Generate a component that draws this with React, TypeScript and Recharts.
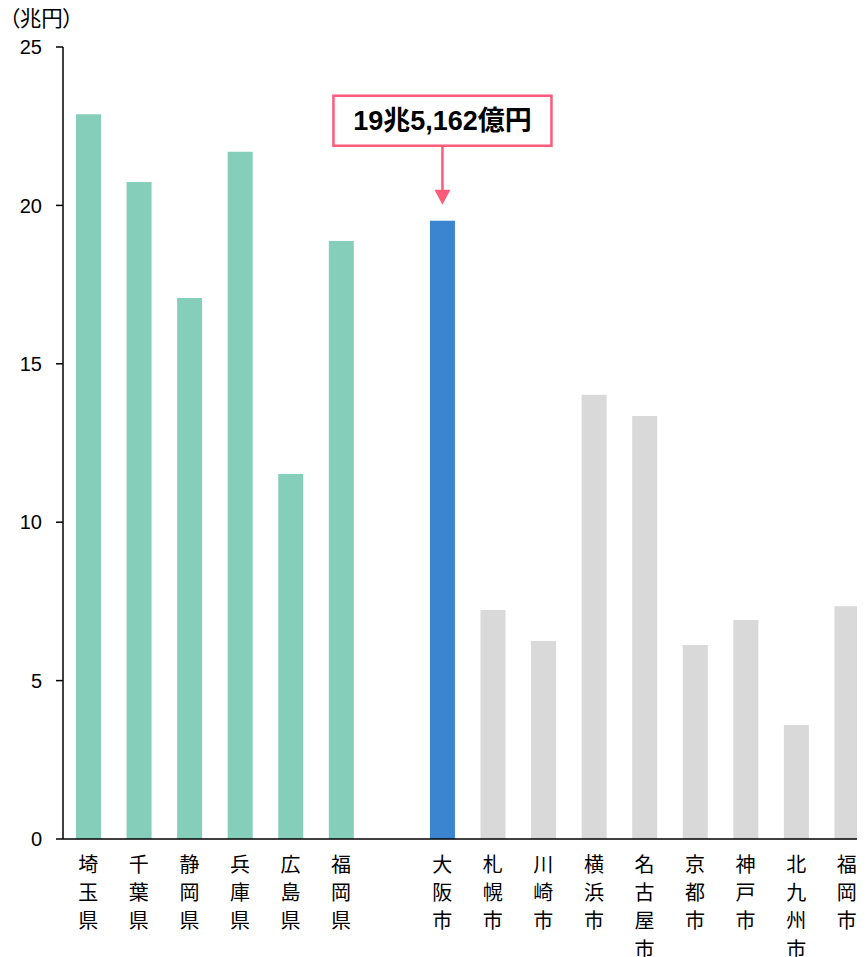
import React from 'react';
import { BarChart, Bar, XAxis, YAxis, Cell, LabelList } from 'recharts';

const categories = ['埼玉県', '千葉県', '静岡県', '兵庫県', '広島県', '福岡県', '', '大阪市', '札幌市', '川崎市', '横浜市', '名古屋市', '京都市', '神戸市', '北九州市', '福岡市'];
const values: (number | null)[] = [22.88, 20.74, 17.08, 21.69, 11.52, 18.88, null, 19.5162, 7.23, 6.25, 14.02, 13.35, 6.12, 6.91, 3.6, 7.35];
const groups = ['pref', 'pref', 'pref', 'pref', 'pref', 'pref', 'gap', 'osaka', 'city', 'city', 'city', 'city', 'city', 'city', 'city', 'city'];
const yTicks = [0, 5, 10, 15, 20, 25];
const annotationText = '19兆5,162億円';
const unitLabel = '（兆円）';

const colorOf: Record<string, string> = {
  pref: '#84CEBA',
  osaka: '#3B84CF',
  city: '#D9D9D9',
  gap: '#FFFFFF',
};

const data = categories.map((name, i) => ({ name, value: values[i], group: groups[i] }));
const osakaIndex = groups.indexOf('osaka');

const PINK = '#FF5B7B';
const CJK = '"Noto Sans CJK JP", "Liberation Sans", sans-serif';
const NUM = '"Liberation Sans", Arial, "Noto Sans CJK JP", sans-serif';

const XTick = (props: any) => {
  const { x, y, payload } = props;
  const chars = Array.from(String(payload.value || ''));
  return (
    <g>
      {chars.map((c, i) => (
        <text key={i} x={x} y={y + 25 + i * 28.2} textAnchor="middle" fontSize={20} fontFamily={CJK} fill="#000">
          {c}
        </text>
      ))}
    </g>
  );
};

const OsakaLabel = (props: any) => {
  const { x, y, width, value } = props;
  if (value !== values[osakaIndex]) return null;
  const cx = Number(x) + Number(width) / 2;
  const top = Number(y);
  const boxW = 218;
  const boxH = 50;
  const boxTop = top - 125;
  const boxBottom = boxTop + boxH;
  const tip = top - 16;
  return (
    <g>
      <rect x={cx - boxW / 2} y={boxTop} width={boxW} height={boxH} fill="#fff" stroke={PINK} strokeWidth={2.5} />
      <text x={cx} y={boxTop + boxH / 2 + 9} textAnchor="middle" fontSize={27} fontWeight="bold" fontFamily={NUM} fill="#000">
        {annotationText}
      </text>
      <line x1={cx} y1={boxBottom} x2={cx} y2={tip - 12} stroke={PINK} strokeWidth={2.5} />
      <polygon points={`${cx - 8},${tip - 15} ${cx + 8},${tip - 15} ${cx},${tip}`} fill={PINK} />
    </g>
  );
};

export default function App() {
  return (
    <div style={{ position: 'relative', width: 857, height: 949, overflow: 'hidden' }}>
      <style>{'html,body{overflow:hidden}'}</style>
      <BarChart width={864} height={949} data={data} margin={{ top: 39, right: 0, bottom: 8, left: 0 }}>
        <XAxis
          dataKey="name"
          interval={0}
          tickLine={false}
          axisLine={{ stroke: '#000', strokeWidth: 1.5 }}
          tick={<XTick />}
          height={110}
        />
        <YAxis
          domain={[0, 25]}
          ticks={yTicks}
          width={55}
          tickSize={7}
          tickMargin={14}
          axisLine={{ stroke: '#000', strokeWidth: 1.5 }}
          tickLine={{ stroke: '#000', strokeWidth: 1.5 }}
          tick={{ fontSize: 20, fill: '#000', fontFamily: NUM }}
          label={{
            value: unitLabel,
            content: () => (
              <text x={1} y={18} fontSize={21.5} fontFamily={CJK} fill="#000" style={{ fontFeatureSettings: '"palt"' }}>
                {unitLabel}
              </text>
            ),
          }}
        />
        <Bar dataKey="value" barSize={25} isAnimationActive={false}>
          {data.map((d, i) => (
            <Cell key={i} fill={colorOf[d.group]} />
          ))}
          <LabelList dataKey="value" content={<OsakaLabel />} />
        </Bar>
      </BarChart>
    </div>
  );
}
